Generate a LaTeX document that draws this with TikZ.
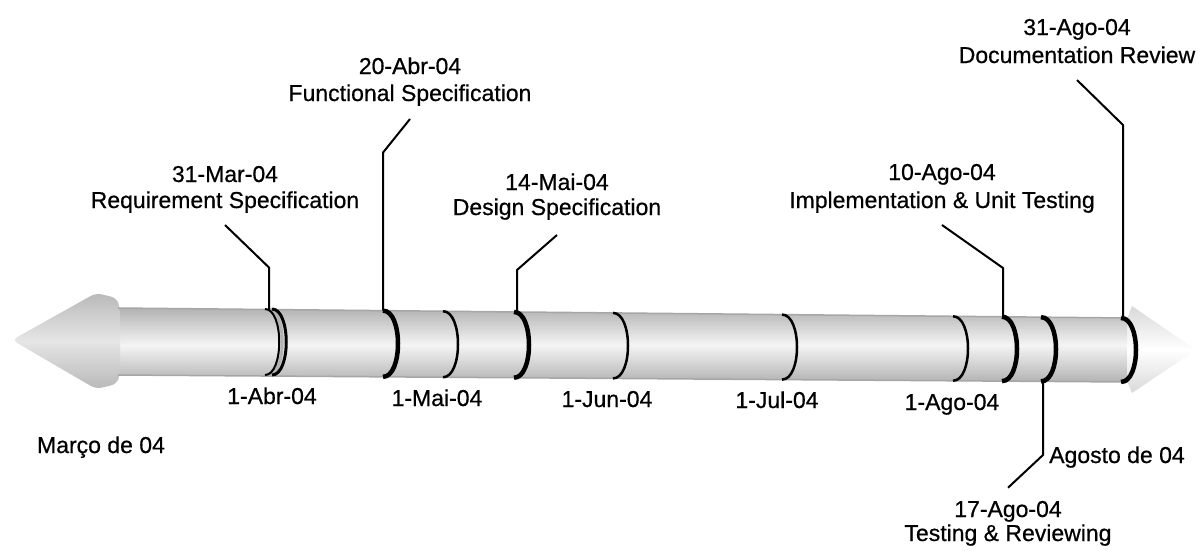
\documentclass[tikz,border=0pt]{standalone}
\usepackage{fontspec}
\setmainfont{Liberation Sans}
\newfontfamily\scanfont{Liberation Sans}[FakeBold=0.6]
\usepackage{tikz}

\begin{document}
\begin{tikzpicture}[x=1pt,y=-1pt,
  txt/.style={inner sep=0pt,anchor=base,font=\scanfont\fontsize{23}{27}\selectfont},
  leader/.style={line width=2pt,black},
  ring/.style={line width=#1,black},ring/.default=2.5pt]
\useasboundingbox (0,0) rectangle (1203,550);
% arrow body and heads
\shade[top color=gray!60,bottom color=gray!60,middle color=gray!8]
 (118,308)--(1128,318)--(1128,382)--(118,375)--cycle;
\shade[top color=gray!55,bottom color=gray!55,middle color=gray!20,rounded corners=6pt]
 (120,309)--(117,298)--(96,293)--(12,340)--(96,389)--(117,384)--(120,374)--cycle;
\shade[top color=gray!30,bottom color=gray!30,middle color=white]
 (1127,319)--(1132,306)--(1196,350)--(1132,393)--(1127,381)--cycle;
\draw[gray!70,line width=1.5pt] (118,308)--(1128,318) (118,375)--(1128,382);
% rings
\draw[ring=3pt,gray!60] (268,309) .. controls (287,309) and (287,375) .. (268,375);
\draw[ring=2pt] (265,309) .. controls (284,309) and (284,375) .. (265,375);
\draw[ring=3pt] (272,309) .. controls (291,309) and (291,375) .. (272,375);
\foreach \x/\w in {383/4.5pt,443/2.5pt,514/4.5pt,613/2.5pt,782/2.5pt,953/2.5pt,1002/4.5pt,1041/4.5pt,1121/4.5pt}{
  \pgfmathsetmacro\yt{308+(\x-118)*0.0099}
  \pgfmathsetmacro\yb{375+(\x-118)*0.0069}
  \draw[ring=\w] (\x,\yt) .. controls (\x+20,\yt) and (\x+20,\yb) .. (\x,\yb);
}
\coordinate (rReq) at (269,309.5);
\coordinate (rFunc) at (383,310.6);
\coordinate (rDes) at (517,312);
\coordinate (rImpl) at (1003,317);
\coordinate (rDoc) at (1123,318);
\coordinate (rTest) at (1043,381.5);
% milestones
\node[txt] (dReq) at (225,182) {31-Mar-04};
\node[txt] (nReq) at (225,208) {Requirement Specification};
\node[txt] (dFunc) at (410,74) {20-Abr-04};
\node[txt] (nFunc) at (410,101) {Functional Specification};
\node[txt] (dDes) at (557,190) {14-Mai-04};
\node[txt] (nDes) at (557,215) {Design Specification};
\node[txt] (dImpl) at (942,180) {10-Ago-04};
\node[txt] (nImpl) at (942,208) {Implementation \& Unit Testing};
\node[txt] (dDoc) at (1077,35) {31-Ago-04};
\node[txt] (nDoc) at (1077,63) {Documentation Review};
\node[txt] (dTest) at (1008,517) {17-Ago-04};
\node[txt] (nTest) at (1008,541) {Testing \& Reviewing};
\draw[leader] (rReq) -- ++(0,-42) -- ([yshift=-17pt]nReq.base);
\draw[leader] (rFunc) -- ++(0,-158) -- ([yshift=-18pt]nFunc.base);
\draw[leader] (rDes) -- ++(0,-42) -- ([yshift=-20pt]nDes.base);
\draw[leader] (rImpl) -- ++(0,-49) -- ([yshift=-17pt]nImpl.base);
\draw[leader] (rDoc) -- ++(0,-193) -- ([yshift=-17pt]nDoc.base);
\draw[leader] (rTest) -- ++(0,73.5) -- ([yshift=13pt]dTest.north);
% months
\node[txt] (mAbr) at (272,404) {1-Abr-04};
\node[txt] (mMai) at (437,406) {1-Mai-04};
\node[txt] (mJun) at (607,407) {1-Jun-04};
\node[txt] (mJul) at (777,408) {1-Jul-04};
\node[txt] (mAgo) at (952,410) {1-Ago-04};
\node[txt] (mar) at (101,453) {Março de 04};
\node[txt] (ago) at (1117,463) {Agosto de 04};
\end{tikzpicture}
\end{document}
